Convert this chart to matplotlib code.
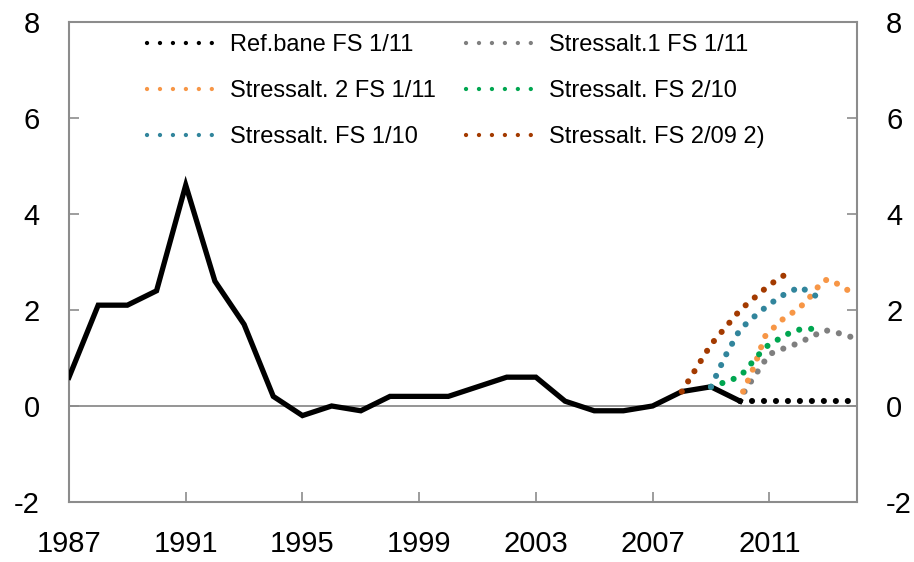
import numpy as np
from matplotlib import pyplot as plt

plt.rcParams['font.family'] = ['Liberation Sans Narrow', 'Liberation Sans', 'DejaVu Sans']

# historical series (annual)
years = list(range(1987, 2011))
hist = [0.6, 2.1, 2.1, 2.4, 4.6, 2.6, 1.7, 0.2, -0.2, 0.0, -0.1, 0.2,
        0.2, 0.2, 0.4, 0.6, 0.6, 0.1, -0.1, -0.1, 0.0, 0.3, 0.4, 0.1]

# scenario paths
ref_x = [2010, 2014]
ref_y = [0.1, 0.1]
s1_x = [2010.15, 2010.5, 2011.0, 2011.5, 2012.0, 2012.5, 2012.9, 2013.3, 2013.9]
s1_y = [0.3, 0.63, 1.08, 1.2, 1.31, 1.46, 1.58, 1.53, 1.42]
s2_x = [2010.1, 2010.5, 2010.85, 2011.4, 2012.0, 2012.3, 2012.85, 2013.1, 2013.5, 2013.95]
s2_y = [0.3, 0.85, 1.45, 1.78, 2.03, 2.2, 2.62, 2.63, 2.48, 2.32]
f210_x = [2009.0, 2009.7, 2010.05, 2010.85, 2011.5, 2011.9, 2012.3, 2012.7]
f210_y = [0.4, 0.54, 0.65, 1.22, 1.46, 1.58, 1.61, 1.6]
f110_x = [2009.0, 2009.5, 2010.0, 2010.5, 2011.0, 2011.5, 2012.05, 2012.4, 2012.8]
f110_y = [0.4, 1.05, 1.6, 1.87, 2.12, 2.32, 2.48, 2.36, 2.22]
f209_x = [2008.0, 2009.0, 2010.0, 2011.0, 2011.7]
f209_y = [0.3, 1.28, 2.0, 2.52, 2.8]

xticks = [1987, 1991, 1995, 1999, 2003, 2007, 2011]
yticks = [-2, 0, 2, 4, 6, 8]

fig = plt.figure(figsize=(9.14, 5.62), dpi=100)
ax = fig.add_axes([0.0755, 0.1068, 0.862, 0.8541])

grey = '#8c8c8c'
ax.axhline(0, color=grey, lw=1.3, zorder=1)

ax.plot(years, hist, color='black', lw=3.8, solid_joinstyle='miter', zorder=3)

dot = (0, (0.01, 1.95))
series = [
    (ref_x, ref_y, 'black', 'Ref.bane FS 1/11'),
    (s1_x, s1_y, '#7f7f7f', 'Stressalt.1 FS 1/11'),
    (s2_x, s2_y, '#f79646', 'Stressalt. 2 FS 1/11'),
    (f210_x, f210_y, '#00a650', 'Stressalt. FS 2/10'),
    (f110_x, f110_y, '#31859c', 'Stressalt. FS 1/10'),
    (f209_x, f209_y, '#a33a00', 'Stressalt. FS 2/09 2)'),
]
lines = []
for x, y, c, lab in series:
    ln, = ax.plot(x, y, color=c, lw=4.4, linestyle=dot, dash_capstyle='round', label=lab, zorder=4)
    lines.append(ln)

ax.set_xlim(1987, 2014)
ax.set_ylim(-2, 8)
ax.set_xticks(xticks)
ax.set_yticks(yticks)
ax.set_xticklabels([str(v) for v in xticks])
ax.set_yticklabels([str(v) for v in yticks])

for s in ax.spines.values():
    s.set_color(grey)
    s.set_linewidth(1.5)

ax.tick_params(axis='both', direction='in', color=grey, width=1.2, length=7,
               labelsize=21)
ax.tick_params(axis='y', left=True, right=True, labelleft=True, labelright=True, pad=21)
ax.tick_params(axis='x', pad=20)

# row-wise legend order (matplotlib fills columns first)
order = [0, 2, 4, 1, 3, 5]
leg = ax.legend([lines[i] for i in order], [series[i][3] for i in order],
                ncol=2, loc='upper left', bbox_to_anchor=(0.072, 1.019), frameon=False,
                fontsize=17, handlelength=2.75, handletextpad=0.75, columnspacing=1.3,
                labelspacing=1.02)
for h in leg.get_lines():
    h.set_linewidth(3.1)
    h.set_linestyle((0, (0.01, 3.0)))

fig.savefig('out.png', dpi=100)
